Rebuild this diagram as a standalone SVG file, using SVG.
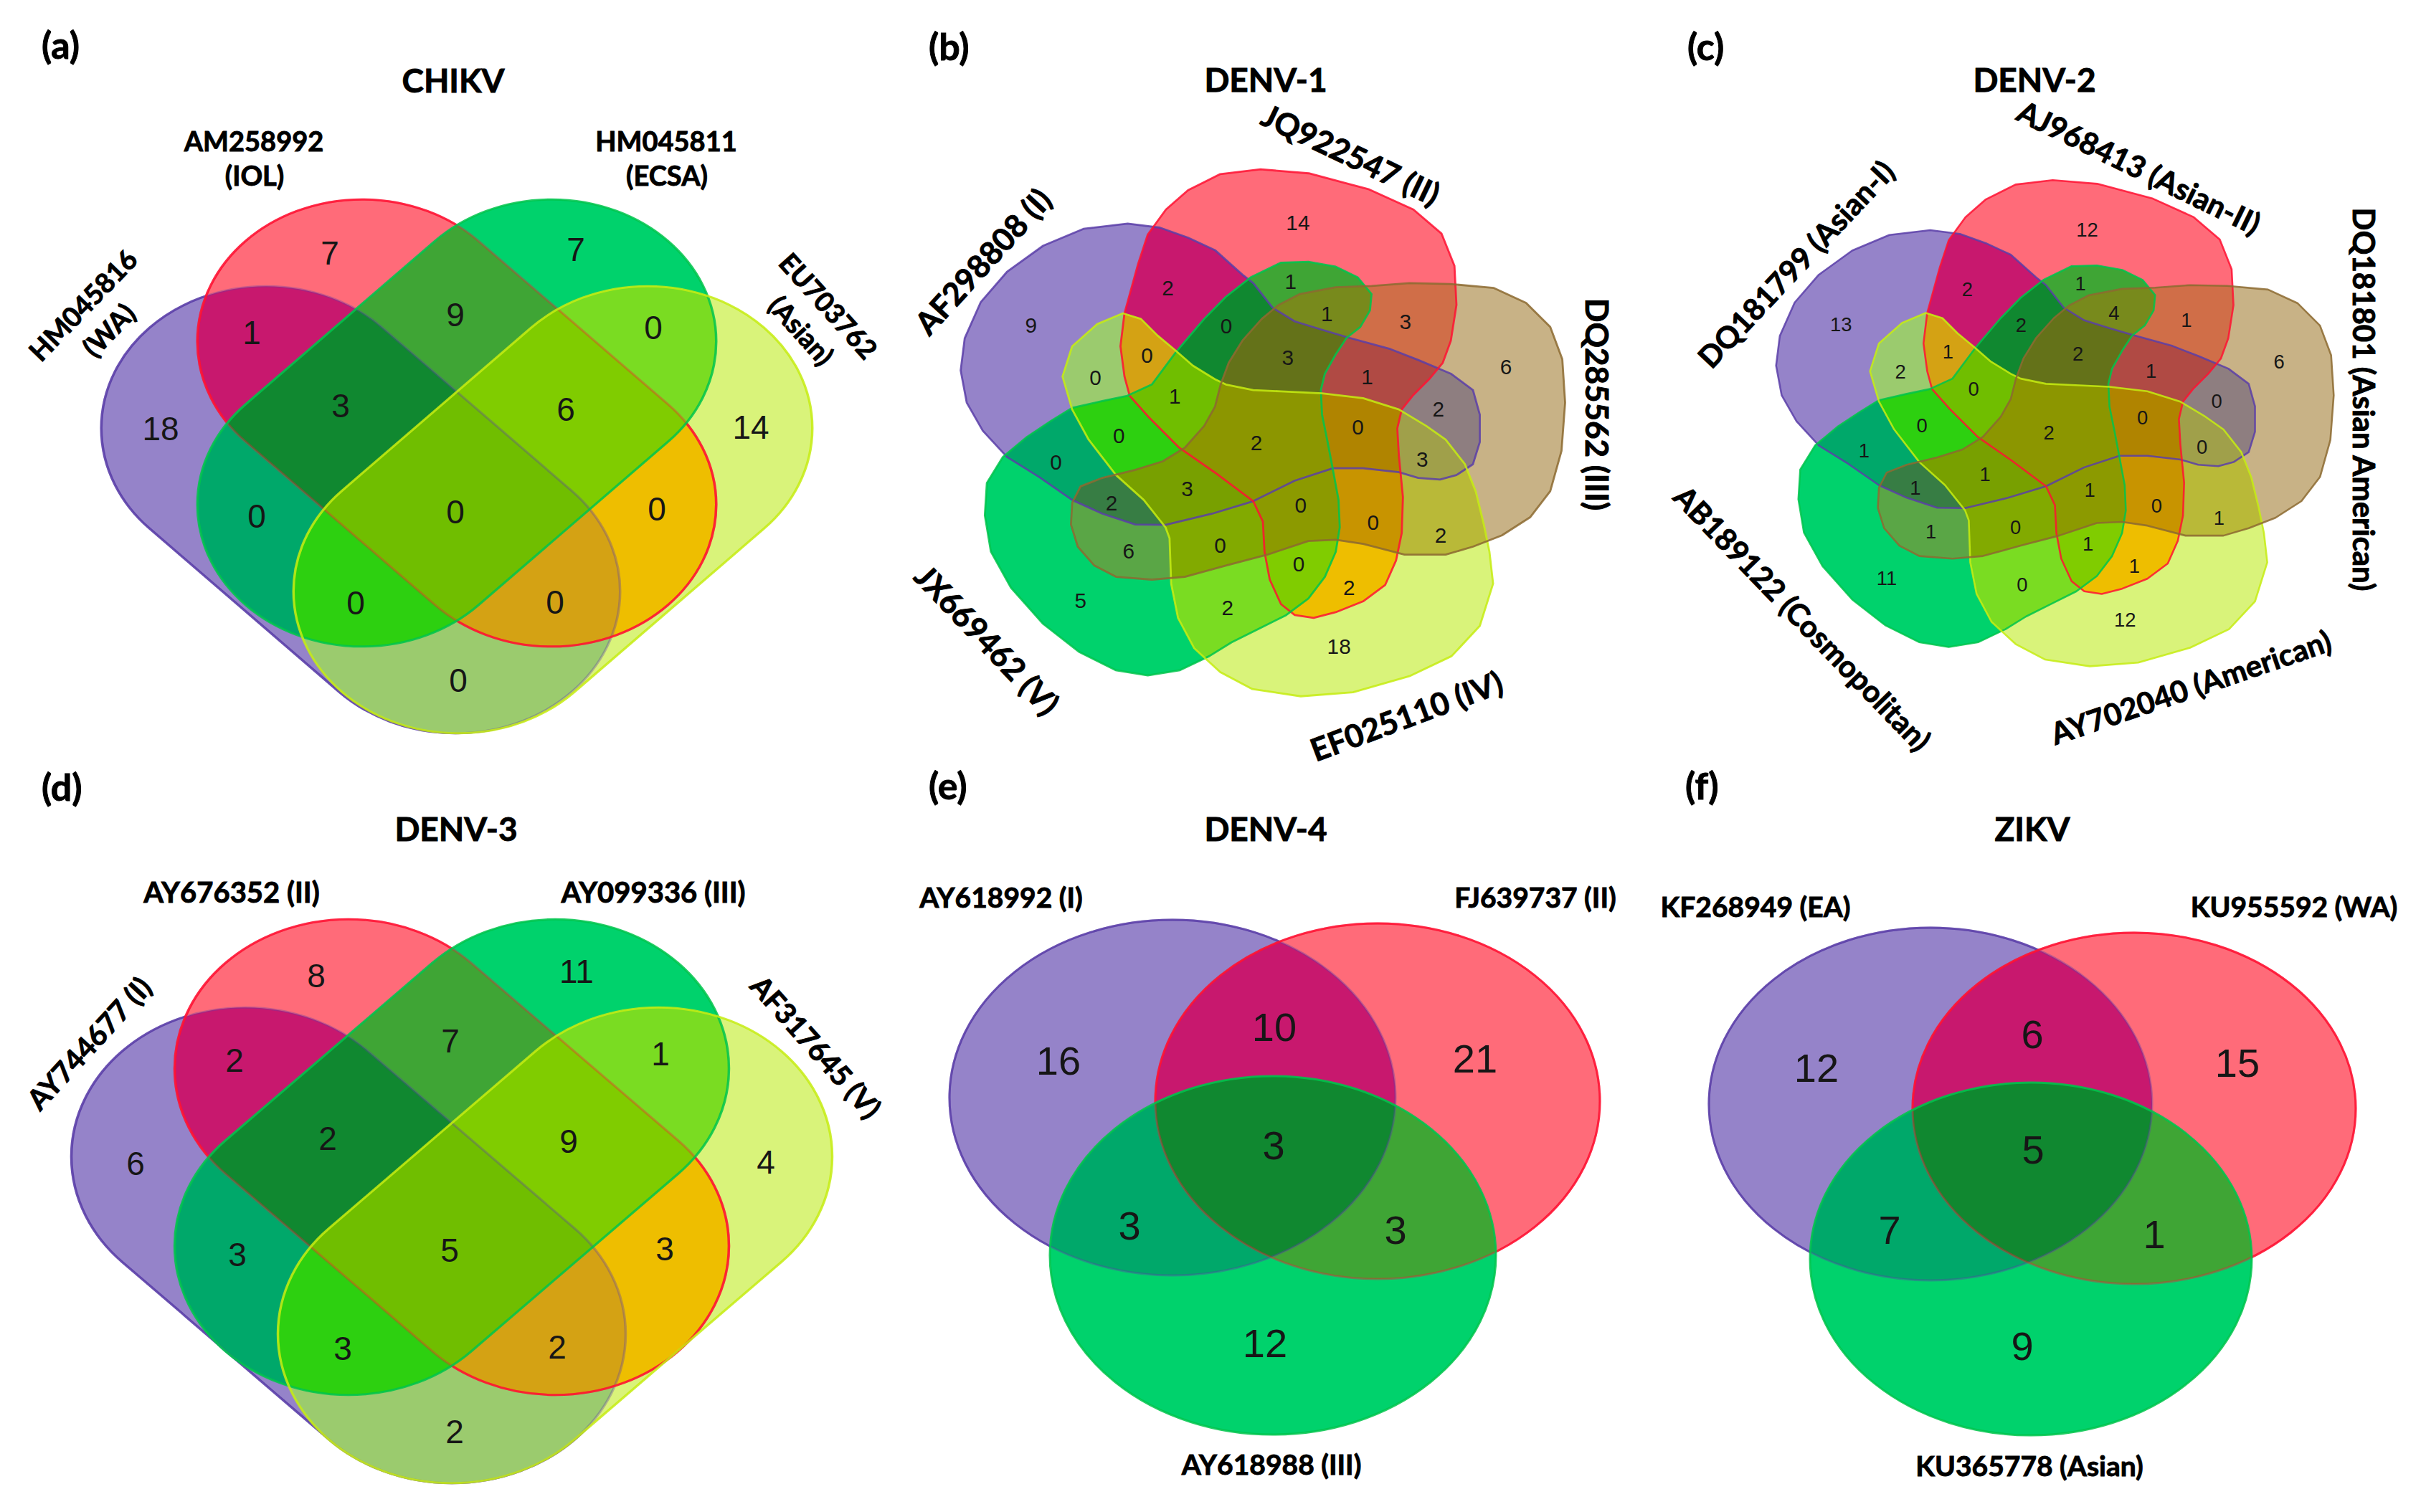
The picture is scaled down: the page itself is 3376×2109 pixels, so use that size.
<svg xmlns="http://www.w3.org/2000/svg" width="3376" height="2109" viewBox="0 0 3376 2109">
<style>
.t{font-family:Lato,'Open Sans','Liberation Sans',sans-serif;font-weight:700;fill:#000;stroke:#000;stroke-width:0.9px}
.ttl{font-size:46px;text-anchor:middle}
.pl{font-size:52px}
.m{text-anchor:middle;dominant-baseline:central}
.n{font-family:'Liberation Sans',Arial,Helvetica,sans-serif;fill:#161616;text-anchor:middle;dominant-baseline:central}
.fP{fill:#9583c9}.fR{fill:#ff6b79}.fG{fill:#00d26c}.fY{fill:#d9f37a}.fB{fill:#c8b286}
.fPR{fill:#c8186e}.fPG{fill:#00a86a}.fPY{fill:#9bcb6e}.fPB{fill:#8e7e80}.fRG{fill:#3fa535}.fRY{fill:#eebe00}.fRB{fill:#d06e48}.fGY{fill:#7adc22}.fGB{fill:#5aa646}.fYB{fill:#b9b938}
.fPRG{fill:#108830}.fPRY{fill:#d4a214}.fPRB{fill:#b04a44}.fPGY{fill:#2dd010}.fPGB{fill:#377d44}.fPYB{fill:#a0a04a}.fRGY{fill:#80cc00}.fRGB{fill:#788a1c}.fRYB{fill:#c89400}.fGYB{fill:#82aa00}
.fPRGY{fill:#70be00}.fPRGB{fill:#647219}.fPRYB{fill:#b08400}.fPGYB{fill:#78a000}.fRGYB{fill:#8c9a00}.fPRGYB{fill:#8c9600}
.o{fill:none;stroke-opacity:.85;stroke-linejoin:round}
.sP{stroke:#5b3ea8}.sR{stroke:#ff1232}.sG{stroke:#00c44c}.sY{stroke:#c6ec12}.sB{stroke:#8c6a30}
</style>
<defs>
<rect id="aP" x="-359" y="-198" width="718" height="396" rx="198" transform="translate(503 711) scale(1.16 1) rotate(45)"/>
<rect id="aR" x="-359" y="-198" width="718" height="396" rx="198" transform="translate(637 590) scale(1.16 1) rotate(45)"/>
<rect id="aG" x="-359" y="-198" width="718" height="396" rx="198" transform="translate(637 590) scale(1.16 1) rotate(-45)"/>
<rect id="aY" x="-359" y="-198" width="718" height="396" rx="198" transform="translate(771 711) scale(1.16 1) rotate(-45)"/>
<rect id="dP" x="-383" y="-208" width="766" height="416" rx="208" transform="translate(486 1737) scale(1.165 1) rotate(45)"/>
<rect id="dR" x="-383" y="-208" width="766" height="416" rx="208" transform="translate(630 1614) scale(1.165 1) rotate(45)"/>
<rect id="dG" x="-383" y="-208" width="766" height="416" rx="208" transform="translate(630 1614) scale(1.165 1) rotate(-45)"/>
<rect id="dY" x="-383" y="-208" width="766" height="416" rx="208" transform="translate(774 1737) scale(1.165 1) rotate(-45)"/>
<ellipse id="eP" cx="1635" cy="1531" rx="311" ry="248"/>
<ellipse id="eR" cx="1921" cy="1536" rx="310" ry="248"/>
<ellipse id="eG" cx="1775" cy="1751" rx="311" ry="250"/>
<ellipse id="gP" cx="2692" cy="1540" rx="309" ry="246"/>
<ellipse id="gR" cx="2976" cy="1546" rx="309" ry="245"/>
<ellipse id="gG" cx="2832" cy="1756" rx="308" ry="246"/>
<polygon id="s5P" points="450,235 530,245 600,270 667,301 735,362 762,383 810,444 865,478 933,499 1001,519 1103,547 1172,574 1253,608 1308,649 1325,710 1325,778 1308,833 1267,860 1226,871 1172,867 1124,853 1035,843 960,843 865,874 762,925 660,956 544,984 469,983 387,956 312,922 230,865 150,815 90,750 50,680 35,600 45,520 85,430 150,355 240,290 340,248"/>
<polygon id="s5R" points="476,335 500,262 545,200 600,152 680,112 780,100 900,110 1050,150 1160,200 1230,260 1262,340 1267,437 1253,526 1233,581 1199,622 1158,663 1131,697 1120,744 1124,813 1134,915 1131,1004 1117,1072 1090,1133 1035,1174 967,1201 912,1215 865,1208 831,1181 803,1120 790,1051 786,976 762,925 667,854 578,792 503,717 455,663 442,615 432,540 442,458"/>
<polygon id="s5B" points="1056,390 967,393 878,410 824,438 783,472 735,526 701,581 681,635 667,690 640,738 592,792 537,826 469,847 387,867 333,888 312,929 309,983 326,1038 367,1085 421,1113 510,1120 592,1113 694,1085 797,1058 899,1024 967,1021 1035,1031 1138,1058 1240,1058 1308,1038 1380,1010 1450,965 1500,900 1528,800 1537,680 1530,572 1500,492 1440,432 1360,395 1250,385 1150,383"/>
<polygon id="s5Y" points="438,458 483,472 524,513 565,547 612,588 667,622 694,635 762,649 831,652 933,657 1035,669 1124,697 1192,738 1240,772 1288,833 1315,901 1335,983 1349,1051 1358,1130 1325,1235 1255,1310 1150,1360 1010,1400 880,1410 760,1392 680,1350 615,1290 575,1215 558,1130 554,1017 544,990 490,922 421,860 353,772 312,697 288,615 312,540 374,485"/>
<polygon id="s5G" points="755,369 831,332 899,330 967,342 1022,369 1056,410 1052,451 1028,492 994,519 967,560 940,608 930,649 933,710 947,779 960,847 974,922 977,990 967,1051 940,1113 899,1167 844,1208 776,1242 708,1276 653,1310 580,1345 500,1358 420,1345 330,1300 240,1230 160,1140 110,1050 95,960 100,880 140,815 200,765 260,725 312,693 387,676 449,663 510,635 571,553 640,472 694,417"/>
<clipPath id="caP"><use href="#aP"/></clipPath><clipPath id="caR"><use href="#aR"/></clipPath><clipPath id="caG"><use href="#aG"/></clipPath>
<clipPath id="cdP"><use href="#dP"/></clipPath><clipPath id="cdR"><use href="#dR"/></clipPath><clipPath id="cdG"><use href="#dG"/></clipPath>
<clipPath id="ceP"><use href="#eP"/></clipPath><clipPath id="ceR"><use href="#eR"/></clipPath>
<clipPath id="cgP"><use href="#gP"/></clipPath><clipPath id="cgR"><use href="#gR"/></clipPath>
<clipPath id="c5P"><use href="#s5P"/></clipPath><clipPath id="c5R"><use href="#s5R"/></clipPath><clipPath id="c5G"><use href="#s5G"/></clipPath><clipPath id="c5Y"><use href="#s5Y"/></clipPath>
<mask id="mAP" maskUnits="userSpaceOnUse" x="0" y="0" width="3376" height="2109"><rect width="3376" height="2109" fill="#fff"/><use href="#aR" fill="#000"/><use href="#aG" fill="#000"/><use href="#aY" fill="#000"/></mask>
<mask id="mAR" maskUnits="userSpaceOnUse" x="0" y="0" width="3376" height="2109"><rect width="3376" height="2109" fill="#fff"/><use href="#aG" fill="#000"/></mask>
<mask id="mDP" maskUnits="userSpaceOnUse" x="0" y="0" width="3376" height="2109"><rect width="3376" height="2109" fill="#fff"/><use href="#dR" fill="#000"/><use href="#dG" fill="#000"/><use href="#dY" fill="#000"/></mask>
<mask id="mDR" maskUnits="userSpaceOnUse" x="0" y="0" width="3376" height="2109"><rect width="3376" height="2109" fill="#fff"/><use href="#dG" fill="#000"/></mask>
<mask id="mEP" maskUnits="userSpaceOnUse" x="0" y="0" width="3376" height="2109"><rect width="3376" height="2109" fill="#fff"/><use href="#eR" fill="#000"/><use href="#eG" fill="#000"/></mask>
<mask id="mER" maskUnits="userSpaceOnUse" x="0" y="0" width="3376" height="2109"><rect width="3376" height="2109" fill="#fff"/><use href="#eG" fill="#000"/></mask>
<mask id="mFP" maskUnits="userSpaceOnUse" x="0" y="0" width="3376" height="2109"><rect width="3376" height="2109" fill="#fff"/><use href="#gR" fill="#000"/><use href="#gG" fill="#000"/></mask>
<mask id="mFR" maskUnits="userSpaceOnUse" x="0" y="0" width="3376" height="2109"><rect width="3376" height="2109" fill="#fff"/><use href="#gG" fill="#000"/></mask>
<g id="v5">
<use href="#s5P" class="fP"/><use href="#s5R" class="fR"/><use href="#s5G" class="fG"/><use href="#s5Y" class="fY"/><use href="#s5B" class="fB"/>
<g clip-path="url(#c5P)"><use href="#s5R" class="fPR"/></g>
<g clip-path="url(#c5P)"><use href="#s5G" class="fPG"/></g>
<g clip-path="url(#c5P)"><use href="#s5Y" class="fPY"/></g>
<g clip-path="url(#c5P)"><use href="#s5B" class="fPB"/></g>
<g clip-path="url(#c5R)"><use href="#s5G" class="fRG"/></g>
<g clip-path="url(#c5R)"><use href="#s5Y" class="fRY"/></g>
<g clip-path="url(#c5R)"><use href="#s5B" class="fRB"/></g>
<g clip-path="url(#c5G)"><use href="#s5Y" class="fGY"/></g>
<g clip-path="url(#c5G)"><use href="#s5B" class="fGB"/></g>
<g clip-path="url(#c5Y)"><use href="#s5B" class="fYB"/></g>
<g clip-path="url(#c5P)"><g clip-path="url(#c5R)"><use href="#s5G" class="fPRG"/></g></g>
<g clip-path="url(#c5P)"><g clip-path="url(#c5R)"><use href="#s5Y" class="fPRY"/></g></g>
<g clip-path="url(#c5P)"><g clip-path="url(#c5R)"><use href="#s5B" class="fPRB"/></g></g>
<g clip-path="url(#c5P)"><g clip-path="url(#c5G)"><use href="#s5Y" class="fPGY"/></g></g>
<g clip-path="url(#c5P)"><g clip-path="url(#c5G)"><use href="#s5B" class="fPGB"/></g></g>
<g clip-path="url(#c5P)"><g clip-path="url(#c5Y)"><use href="#s5B" class="fPYB"/></g></g>
<g clip-path="url(#c5R)"><g clip-path="url(#c5G)"><use href="#s5Y" class="fRGY"/></g></g>
<g clip-path="url(#c5R)"><g clip-path="url(#c5G)"><use href="#s5B" class="fRGB"/></g></g>
<g clip-path="url(#c5R)"><g clip-path="url(#c5Y)"><use href="#s5B" class="fRYB"/></g></g>
<g clip-path="url(#c5G)"><g clip-path="url(#c5Y)"><use href="#s5B" class="fGYB"/></g></g>
<g clip-path="url(#c5P)"><g clip-path="url(#c5R)"><g clip-path="url(#c5G)"><use href="#s5Y" class="fPRGY"/></g></g></g>
<g clip-path="url(#c5P)"><g clip-path="url(#c5R)"><g clip-path="url(#c5G)"><use href="#s5B" class="fPRGB"/></g></g></g>
<g clip-path="url(#c5P)"><g clip-path="url(#c5R)"><g clip-path="url(#c5Y)"><use href="#s5B" class="fPRYB"/></g></g></g>
<g clip-path="url(#c5P)"><g clip-path="url(#c5G)"><g clip-path="url(#c5Y)"><use href="#s5B" class="fPGYB"/></g></g></g>
<g clip-path="url(#c5R)"><g clip-path="url(#c5G)"><g clip-path="url(#c5Y)"><use href="#s5B" class="fRGYB"/></g></g></g>
<g clip-path="url(#c5P)"><g clip-path="url(#c5R)"><g clip-path="url(#c5G)"><g clip-path="url(#c5Y)"><use href="#s5B" class="fPRGYB"/></g></g></g></g>
<g class="o" stroke-width="5">
<use href="#s5P" class="sP"/><use href="#s5R" class="sR"/><use href="#s5G" class="sG"/><use href="#s5Y" class="sY"/><use href="#s5B" class="sB"/>
</g>
</g>
</defs>
<rect width="3376" height="2109" fill="#fff"/>

<g id="panel-a">
<g id="a-regions">
<use href="#aP" class="fP"/><use href="#aR" class="fR"/><use href="#aG" class="fG"/><use href="#aY" class="fY"/>
<g clip-path="url(#caP)"><use href="#aR" class="fPR"/></g>
<g clip-path="url(#caP)"><use href="#aG" class="fPG"/></g>
<g clip-path="url(#caP)"><use href="#aY" class="fPY"/></g>
<g clip-path="url(#caR)"><use href="#aG" class="fRG"/></g>
<g clip-path="url(#caR)"><use href="#aY" class="fRY"/></g>
<g clip-path="url(#caG)"><use href="#aY" class="fGY"/></g>
<g clip-path="url(#caP)"><g clip-path="url(#caR)"><use href="#aG" class="fPRG"/></g></g>
<g clip-path="url(#caP)"><g clip-path="url(#caR)"><use href="#aY" class="fPRY"/></g></g>
<g clip-path="url(#caP)"><g clip-path="url(#caG)"><use href="#aY" class="fPGY"/></g></g>
<g clip-path="url(#caR)"><g clip-path="url(#caG)"><use href="#aY" class="fRGY"/></g></g>
<g clip-path="url(#caP)"><g clip-path="url(#caR)"><g clip-path="url(#caG)"><use href="#aY" class="fPRGY"/></g></g></g>
</g>
<g id="a-outlines" class="o" stroke-width="3">
<g opacity=".4"><use href="#aP" class="sP"/><use href="#aR" class="sR"/></g>
<use id="a-HM045816" href="#aP" class="sP" mask="url(#mAP)"/><use id="a-AM258992" href="#aR" class="sR" mask="url(#mAR)"/><use id="a-HM045811" href="#aG" class="sG"/><use id="a-EU703762" href="#aY" class="sY"/>
</g>
<g class="t">
<text class="pl" x="58" y="82">(a)</text>
<text class="ttl" x="632" y="129">CHIKV</text>
<text font-size="38" text-anchor="middle" x="354" y="211">AM258992</text>
<text font-size="38" text-anchor="middle" x="355" y="259">(IOL)</text>
<text font-size="38" text-anchor="middle" x="929" y="211">HM045811</text>
<text font-size="38" text-anchor="middle" x="930" y="259">(ECSA)</text>
<g transform="translate(115 425) rotate(-46)" font-size="38"><text class="m" x="0" y="0">HM045816</text><text class="m" x="0" y="50">(WA)</text></g>
<g transform="translate(1156 426) rotate(48)" font-size="38"><text class="m" x="0" y="0">EU703762</text><text class="m" x="0" y="51">(Asian)</text></g>
</g>
<g class="n" font-size="46">
<text x="460" y="353">7</text><text x="803" y="348">7</text><text x="351" y="464">1</text><text x="635" y="439">9</text><text x="911" y="457">0</text>
<text x="224" y="598">18</text><text x="475" y="566">3</text><text x="789" y="571">6</text><text x="1047" y="596">14</text>
<text x="358" y="720">0</text><text x="635" y="714">0</text><text x="916" y="710">0</text><text x="496" y="841">0</text><text x="774" y="840">0</text><text x="639" y="949">0</text>
</g>
</g>

<g id="panel-b">
<use href="#v5" transform="translate(1320 180) scale(0.56117)"/>
<g class="t" font-size="44">
<text class="pl" x="1295" y="84">(b)</text>
<text class="ttl" x="1765" y="128">DENV-1</text>
<g transform="translate(1370 364) rotate(-47.5)"><text class="m">AF298808 (I)</text></g>
<g transform="translate(1884 215) rotate(25.5)"><text class="m">JQ922547 (II)</text></g>
<g transform="translate(2228 564) rotate(90)"><text class="m">DQ285562 (III)</text></g>
<g transform="translate(1377 892) rotate(46.4)"><text class="m">JX669462 (V)</text></g>
<g transform="translate(1961 998) rotate(-20.4)"><text class="m">EF025110 (IV)</text></g>
</g>
<g class="n" font-size="53" transform="translate(1320 180) scale(0.56117)">
<text x="210" y="488">9</text><text x="873" y="233">14</text><text x="1390" y="590">6</text><text x="975" y="1285">18</text><text x="333" y="1172">5</text>
<text x="550" y="395">2</text><text x="695" y="490">0</text><text x="855" y="378">1</text><text x="945" y="458">1</text><text x="1140" y="478">3</text>
<text x="848" y="568">3</text><text x="1045" y="615">1</text><text x="1222" y="695">2</text><text x="1022" y="740">0</text><text x="1182" y="820">3</text>
<text x="1228" y="1010">2</text><text x="1060" y="978">0</text><text x="1000" y="1140">2</text><text x="875" y="1080">0</text><text x="698" y="1190">2</text>
<text x="680" y="1035">0</text><text x="452" y="1048">6</text><text x="410" y="930">2</text><text x="272" y="828">0</text><text x="428" y="762">0</text>
<text x="370" y="617">0</text><text x="498" y="563">0</text><text x="567" y="663">1</text><text x="770" y="780">2</text><text x="598" y="893">3</text><text x="880" y="935">0</text>
</g>
</g>

<g id="panel-c">
<use href="#v5" transform="translate(2458.6 199.4) scale(0.5177)"/>
<g class="t" font-size="42">
<text class="pl" x="2353" y="84">(c)</text>
<text class="ttl" x="2837" y="128">DENV-2</text>
<g transform="translate(2504 368) rotate(-46.8)"><text class="m">DQ181799 (Asian-I)</text></g>
<g transform="translate(2983 233) rotate(26)"><text class="m">AJ968413 (Asian-II)</text></g>
<g transform="translate(3297 557) rotate(90)"><text class="m">DQ181801 (Asian American)</text></g>
<g transform="translate(2514 862) rotate(46)"><text class="m">AB189122 (Cosmopolitan)</text></g>
<g transform="translate(3055 958) rotate(-18.9)"><text class="m">AY702040 (American)</text></g>
</g>
<g class="n" font-size="53" transform="translate(2458.6 199.4) scale(0.5177)">
<text x="210" y="488">13</text><text x="873" y="233">12</text><text x="1390" y="590">6</text><text x="975" y="1285">12</text><text x="333" y="1172">11</text>
<text x="550" y="395">2</text><text x="695" y="490">2</text><text x="855" y="378">1</text><text x="945" y="458">4</text><text x="1140" y="478">1</text>
<text x="848" y="568">2</text><text x="1045" y="615">1</text><text x="1222" y="695">0</text><text x="1022" y="740">0</text><text x="1182" y="820">0</text>
<text x="1228" y="1010">1</text><text x="1060" y="978">0</text><text x="1000" y="1140">1</text><text x="875" y="1080">1</text><text x="698" y="1190">0</text>
<text x="680" y="1035">0</text><text x="452" y="1048">1</text><text x="410" y="930">1</text><text x="272" y="828">1</text><text x="428" y="762">0</text>
<text x="370" y="617">2</text><text x="498" y="563">1</text><text x="567" y="663">0</text><text x="770" y="780">2</text><text x="598" y="893">1</text><text x="880" y="935">1</text>
</g>
</g>

<g id="panel-d">
<g id="d-regions">
<use href="#dP" class="fP"/><use href="#dR" class="fR"/><use href="#dG" class="fG"/><use href="#dY" class="fY"/>
<g clip-path="url(#cdP)"><use href="#dR" class="fPR"/></g>
<g clip-path="url(#cdP)"><use href="#dG" class="fPG"/></g>
<g clip-path="url(#cdP)"><use href="#dY" class="fPY"/></g>
<g clip-path="url(#cdR)"><use href="#dG" class="fRG"/></g>
<g clip-path="url(#cdR)"><use href="#dY" class="fRY"/></g>
<g clip-path="url(#cdG)"><use href="#dY" class="fGY"/></g>
<g clip-path="url(#cdP)"><g clip-path="url(#cdR)"><use href="#dG" class="fPRG"/></g></g>
<g clip-path="url(#cdP)"><g clip-path="url(#cdR)"><use href="#dY" class="fPRY"/></g></g>
<g clip-path="url(#cdP)"><g clip-path="url(#cdG)"><use href="#dY" class="fPGY"/></g></g>
<g clip-path="url(#cdR)"><g clip-path="url(#cdG)"><use href="#dY" class="fRGY"/></g></g>
<g clip-path="url(#cdP)"><g clip-path="url(#cdR)"><g clip-path="url(#cdG)"><use href="#dY" class="fPRGY"/></g></g></g>
</g>
<g id="d-outlines" class="o" stroke-width="3">
<g opacity=".4"><use href="#dP" class="sP"/><use href="#dR" class="sR"/></g>
<use id="d-AY744677" href="#dP" class="sP" mask="url(#mDP)"/><use id="d-AY676352" href="#dR" class="sR" mask="url(#mDR)"/><use id="d-AY099336" href="#dG" class="sG"/><use id="d-AF317645" href="#dY" class="sY"/>
</g>
<g class="t">
<text class="pl" x="58" y="1117">(d)</text>
<text class="ttl" x="636" y="1173">DENV-3</text>
<text font-size="40" text-anchor="middle" x="323" y="1259">AY676352 (II)</text>
<text font-size="40" text-anchor="middle" x="911" y="1259">AY099336 (III)</text>
<g transform="translate(124 1455) rotate(-47.4)" font-size="40"><text class="m">AY744677 (I)</text></g>
<g transform="translate(1138 1460) rotate(48.3)" font-size="40"><text class="m">AF317645 (V)</text></g>
</g>
<g class="n" font-size="46">
<text x="441" y="1361">8</text><text x="804" y="1355">11</text><text x="327" y="1479">2</text><text x="628" y="1452">7</text><text x="921" y="1470">1</text>
<text x="189" y="1623">6</text><text x="457" y="1588">2</text><text x="793" y="1592">9</text><text x="1068" y="1621">4</text>
<text x="331" y="1750">3</text><text x="627" y="1744">5</text><text x="927" y="1742">3</text><text x="478" y="1881">3</text><text x="777" y="1879">2</text><text x="634" y="1997">2</text>
</g>
</g>

<g id="panel-e">
<g id="e-regions">
<use href="#eP" class="fP"/><use href="#eR" class="fR"/><use href="#eG" class="fG"/>
<g clip-path="url(#ceP)"><use href="#eR" class="fPR"/></g>
<g clip-path="url(#ceP)"><use href="#eG" class="fPG"/></g>
<g clip-path="url(#ceR)"><use href="#eG" class="fRG"/></g>
<g clip-path="url(#ceP)"><g clip-path="url(#ceR)"><use href="#eG" class="fPRG"/></g></g>
</g>
<g id="e-outlines" class="o" stroke-width="3">
<g opacity=".45"><use href="#eP" class="sP"/><use href="#eR" class="sR"/></g>
<use id="e-AY618992" href="#eP" class="sP" mask="url(#mEP)"/><use id="e-FJ639737" href="#eR" class="sR" mask="url(#mER)"/><use id="e-AY618988" href="#eG" class="sG"/>
</g>
<g class="t">
<text class="pl" x="1295" y="1115">(e)</text>
<text class="ttl" x="1765" y="1173">DENV-4</text>
<text font-size="39" text-anchor="middle" x="1396" y="1266">AY618992 (I)</text>
<text font-size="39" text-anchor="middle" x="2141" y="1266">FJ639737 (II)</text>
<text font-size="39" text-anchor="middle" x="1773" y="2057">AY618988 (III)</text>
</g>
<g class="n" font-size="56">
<text x="1476" y="1479">16</text><text x="1777" y="1432">10</text><text x="2057" y="1476">21</text><text x="1776" y="1597">3</text>
<text x="1575" y="1709">3</text><text x="1946" y="1715">3</text><text x="1764" y="1873">12</text>
</g>
</g>

<g id="panel-f">
<g id="f-regions">
<use href="#gP" class="fP"/><use href="#gR" class="fR"/><use href="#gG" class="fG"/>
<g clip-path="url(#cgP)"><use href="#gR" class="fPR"/></g>
<g clip-path="url(#cgP)"><use href="#gG" class="fPG"/></g>
<g clip-path="url(#cgR)"><use href="#gG" class="fRG"/></g>
<g clip-path="url(#cgP)"><g clip-path="url(#cgR)"><use href="#gG" class="fPRG"/></g></g>
</g>
<g id="f-outlines" class="o" stroke-width="3">
<g opacity=".45"><use href="#gP" class="sP"/><use href="#gR" class="sR"/></g>
<use id="f-KF268949" href="#gP" class="sP" mask="url(#mFP)"/><use id="f-KU955592" href="#gR" class="sR" mask="url(#mFR)"/><use id="f-KU365778" href="#gG" class="sG"/>
</g>
<g class="t">
<text class="pl" x="2350" y="1115">(f)</text>
<text class="ttl" x="2834" y="1173">ZIKV</text>
<text font-size="39" text-anchor="middle" x="2448" y="1279">KF268949 (EA)</text>
<text font-size="39" text-anchor="middle" x="3199" y="1279">KU955592 (WA)</text>
<text font-size="39" text-anchor="middle" x="2830" y="2059">KU365778 (Asian)</text>
</g>
<g class="n" font-size="56">
<text x="2533" y="1489">12</text><text x="2834" y="1442">6</text><text x="3120" y="1482">15</text><text x="2835" y="1603">5</text>
<text x="2635" y="1715">7</text><text x="3004" y="1721">1</text><text x="2820" y="1877">9</text>
</g>
</g>
</svg>
